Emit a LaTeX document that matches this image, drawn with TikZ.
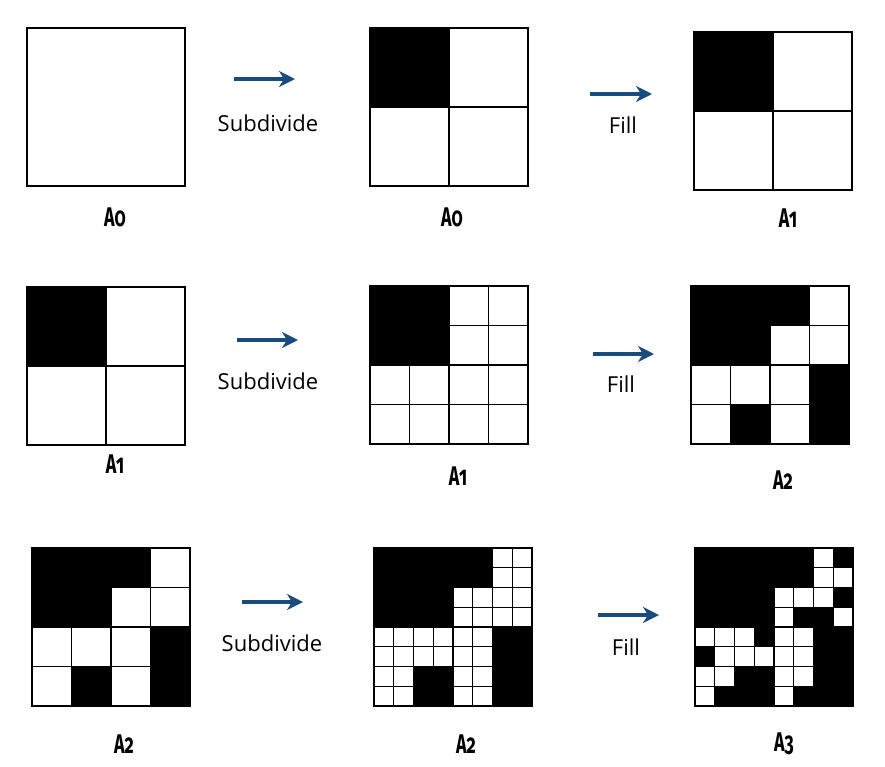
\documentclass[tikz,border=0pt]{standalone}
\usepackage{fontspec}
\setmainfont{Open Sans}
\newfontfamily\labelfont[FakeStretch=0.66,Numbers=OldStyle]{Fira Sans}
\usepackage{xcolor}
\usetikzlibrary{arrows.meta}
\definecolor{arrowblue}{RGB}{25,75,125}

% #1,#2 top-left corner, #3 cells per side, #4 rows of 0/1 (1 = black)
\newcommand{\tilegrid}[4]{%
  \pgfmathsetmacro{\cellw}{158/#3}
  \foreach \cells [count=\ry from 0] in {#4} {
    \foreach \v [count=\cx from 0] in \cells {
      \ifnum\v=1
        \fill[black] ({#1+\cx*\cellw},{#2+\ry*\cellw}) rectangle ++(\cellw,\cellw);
      \else
        \draw[cellline] ({#1+\cx*\cellw},{#2+\ry*\cellw}) rectangle ++(\cellw,\cellw);
      \fi
    }
  }
  \draw[border] (#1,#2) rectangle ++(158,158);
}

\begin{document}
\begin{tikzpicture}[x=1pt, y=-1pt,
    border/.style={line width=2.4pt},
    cellline/.style={line width=1.1pt},
    flow/.style={arrowblue, line width=3.2pt, -{Stealth[length=16pt, width=16pt, inset=5pt]}},
    optext/.style={anchor=base, inner sep=0pt, font=\fontsize{22}{26}\selectfont},
    setname/.style={inner sep=0pt, font=\labelfont\bfseries\fontsize{27}{31}\selectfont}]
    \useasboundingbox (0,0) rectangle (885,766);

    % first row
    \tilegrid{27}{28}{1}{{0}}
    \tilegrid{370}{28}{2}{{1,0},{0,0}}
    \tilegrid{694}{32}{2}{{1,0},{0,0}}
    \node[setname] (a0l) at (115,217) {A0};
    \node[setname] (a0m) at (452,217) {A0};
    \node[setname] (a1r) at (788,218) {A1};
    \coordinate (s1a) at (234,79);
    \coordinate (s1b) at (295,79);
    \draw[flow] (s1a) -- (s1b);
    \node[optext] (sub1) at (268,131) {Subdivide};
    \coordinate (f1a) at (590,94);
    \coordinate (f1b) at (652,94);
    \draw[flow] (f1a) -- (f1b);
    \node[optext] (fill1) at (623,133) {Fill};

    % second row
    \tilegrid{27}{287}{2}{{1,0},{0,0}}
    \tilegrid{370}{286}{4}{{1,1,0,0},{1,1,0,0},{0,0,0,0},{0,0,0,0}}
    \tilegrid{691}{286}{4}{{1,1,1,0},{1,1,0,0},{0,0,0,1},{0,1,0,1}}
    \node[setname] (a1l) at (115,464) {A1};
    \node[setname] (a1m) at (458,476) {A1};
    \node[setname] (a2r) at (783,480) {A2};
    \coordinate (s2a) at (237,340);
    \coordinate (s2b) at (298,340);
    \draw[flow] (s2a) -- (s2b);
    \node[optext] (sub2) at (268,389) {Subdivide};
    \coordinate (f2a) at (593,354);
    \coordinate (f2b) at (654,354);
    \draw[flow] (f2a) -- (f2b);
    \node[optext] (fill2) at (621,392) {Fill};

    % third row
    \tilegrid{32}{548}{4}{{1,1,1,0},{1,1,0,0},{0,0,0,1},{0,1,0,1}}
    \tilegrid{374}{548}{8}{{1,1,1,1,1,1,0,0},{1,1,1,1,1,1,0,0},{1,1,1,1,0,0,0,0},{1,1,1,1,0,0,0,0},
      {0,0,0,0,0,0,1,1},{0,0,0,0,0,0,1,1},{0,0,1,1,0,0,1,1},{0,0,1,1,0,0,1,1}}
    \tilegrid{695}{548}{8}{{1,1,1,1,1,1,0,1},{1,1,1,1,1,1,0,0},{1,1,1,1,0,0,0,1},{1,1,1,1,0,1,1,0},
      {0,0,0,1,0,0,1,1},{1,0,0,0,0,0,1,1},{0,0,1,1,0,0,1,1},{0,1,1,1,0,1,1,1}}
    \node[setname] (a2l) at (124,744) {A2};
    \node[setname] (a2m) at (466,744) {A2};
    \node[setname] (a3r) at (784,744) {A3};
    \coordinate (s3a) at (242,602);
    \coordinate (s3b) at (303,602);
    \draw[flow] (s3a) -- (s3b);
    \node[optext] (sub3) at (272,651) {Subdivide};
    \coordinate (f3a) at (598,615);
    \coordinate (f3b) at (659,615);
    \draw[flow] (f3a) -- (f3b);
    \node[optext] (fill3) at (626,655) {Fill};
\end{tikzpicture}
\end{document}
